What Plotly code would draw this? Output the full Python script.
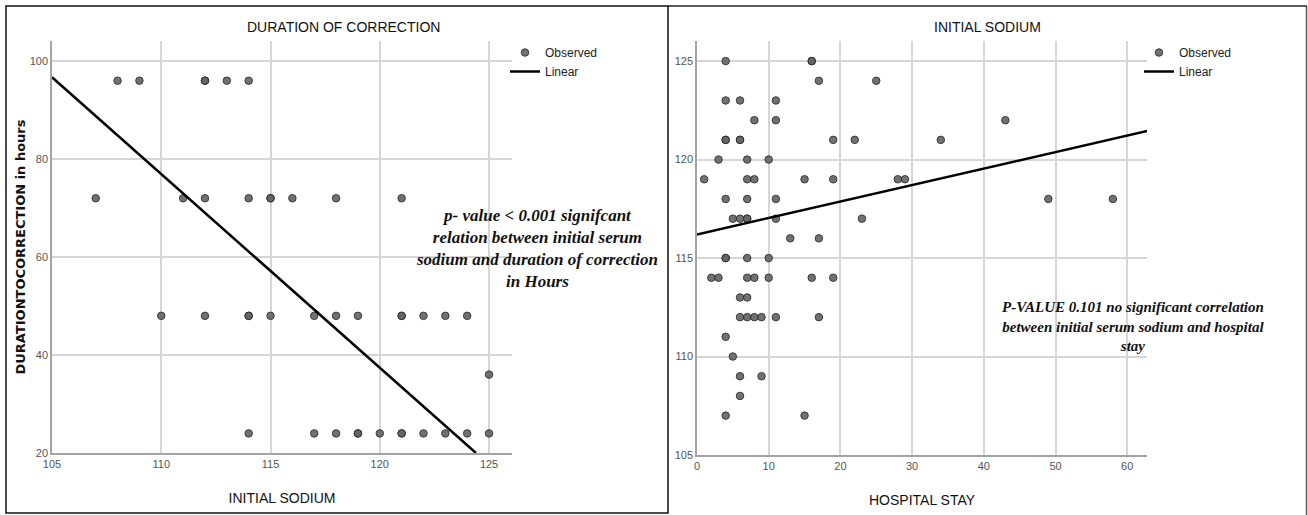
import plotly.graph_objects as go

# ---------------- data: left chart (duration of correction vs initial sodium)
dur_sodium = [108, 109, 112, 112, 113, 114,
              107, 111, 112, 114, 115, 115, 116, 118, 121,
              110, 112, 114, 114, 115, 117, 118, 119, 121, 121, 122, 123, 124,
              125,
              114, 117, 118, 119, 119, 120, 121, 121, 122, 123, 124, 125]
dur_hours = [96, 96, 96, 96, 96, 96,
             72, 72, 72, 72, 72, 72, 72, 72, 72,
             48, 48, 48, 48, 48, 48, 48, 48, 48, 48, 48, 48, 48,
             36,
             24, 24, 24, 24, 24, 24, 24, 24, 24, 24, 24, 24]
dur_fit_x = [105, 124.4]
dur_fit_y = [96.7, 20]

# ---------------- data: right chart (initial sodium vs hospital stay)
stay_days = [4, 16, 16,
             17, 25,
             4, 6, 11,
             8, 11, 43,
             4, 4, 6, 6, 19, 22, 34,
             3, 7, 10,
             1, 7, 8, 15, 19, 28, 29,
             4, 7, 11, 49, 58,
             5, 6, 7, 7, 11, 23,
             13, 17,
             4, 4, 7, 10,
             2, 3, 7, 8, 10, 16, 19,
             6, 7,
             6, 7, 8, 9, 11, 17,
             4,
             5,
             6, 9,
             6,
             4, 15]
stay_sodium = [125, 125, 125,
               124, 124,
               123, 123, 123,
               122, 122, 122,
               121, 121, 121, 121, 121, 121, 121,
               120, 120, 120,
               119, 119, 119, 119, 119, 119, 119,
               118, 118, 118, 118, 118,
               117, 117, 117, 117, 117, 117,
               116, 116,
               115, 115, 115, 115,
               114, 114, 114, 114, 114, 114, 114,
               113, 113,
               112, 112, 112, 112, 112, 112,
               111,
               110,
               109, 109,
               108,
               107, 107]
stay_fit_x = [0, 62.8]
stay_fit_y = [116.2, 121.45]

W, H = 1308, 515
def px(x):
    return x / W
def py(y):
    return 1 - y / H

SANS = "Liberation Sans Narrow, Arial Narrow, Liberation Sans, sans-serif"
TICK_FONT = dict(family=SANS, size=11, color="#555555")
TITLE_FONT = dict(family=SANS, size=14, color="#111")
LEG_FONT = dict(family=SANS, size=12, color="#222")
GRID = "#d6d6d6"
AXLINE = "#a3a3a3"
MARKER = dict(size=7.5, color="#666666", opacity=0.92, line=dict(color="#2b2b2b", width=1))

fig = go.Figure()

fig.add_trace(go.Scatter(x=dur_sodium, y=dur_hours, mode="markers", name="Observed",
                         marker=MARKER, xaxis="x", yaxis="y", legend="legend"))
fig.add_trace(go.Scatter(x=dur_fit_x, y=dur_fit_y, mode="lines", name="Linear",
                         line=dict(color="black", width=2.5), xaxis="x", yaxis="y", legend="legend"))
fig.add_trace(go.Scatter(x=stay_days, y=stay_sodium, mode="markers", name="Observed",
                         marker=MARKER, xaxis="x2", yaxis="y2", legend="legend2"))
fig.add_trace(go.Scatter(x=stay_fit_x, y=stay_fit_y, mode="lines", name="Linear",
                         line=dict(color="black", width=2.5), xaxis="x2", yaxis="y2", legend="legend2"))

common_axis = dict(showgrid=True, gridcolor=GRID, gridwidth=1.5, showline=True, linecolor=AXLINE,
                   linewidth=1.5, zeroline=False, ticks="", tickfont=TICK_FONT, fixedrange=True,
                   automargin=False)

fig.update_layout(
    width=W, height=H,
    margin=dict(l=0, r=0, t=0, b=0, autoexpand=False),
    paper_bgcolor="white", plot_bgcolor="white",
    xaxis=dict(domain=[px(52), px(512)], range=[105, 126.05], tickvals=[105, 110, 115, 120, 125],
               anchor="y",
               title=dict(text="INITIAL SODIUM", font=TITLE_FONT, standoff=24), **common_axis),
    yaxis=dict(domain=[py(453), py(41)], range=[20, 104.1], tickvals=[20, 40, 60, 80, 100],
               anchor="x",
               title=dict(text="<b>DURATIONTOCORRECTION in hours</b>",
                          font=dict(family="DejaVu Sans", size=13, color="#111"), standoff=1),
               **common_axis),
    xaxis2=dict(domain=[px(697), px(1147)], range=[0, 62.76], tickvals=[0, 10, 20, 30, 40, 50, 60],
                anchor="y2",
                title=dict(text="HOSPITAL STAY", font=TITLE_FONT, standoff=24), **common_axis),
    yaxis2=dict(domain=[py(455), py(41)], range=[105, 126.02], tickvals=[105, 110, 115, 120, 125],
                anchor="x2", **common_axis),
    legend=dict(x=px(505), y=py(38), xanchor="left", yanchor="top", font=LEG_FONT,
                bgcolor="rgba(0,0,0,0)", tracegroupgap=0, itemwidth=30),
    legend2=dict(x=px(1139), y=py(38), xanchor="left", yanchor="top", font=LEG_FONT,
                 bgcolor="rgba(0,0,0,0)", tracegroupgap=0, itemwidth=30),
    showlegend=True,
)

# chart titles
fig.add_annotation(text="DURATION OF CORRECTION", x=px(343), y=py(27), xref="paper", yref="paper",
                   showarrow=False, font=TITLE_FONT, xanchor="center", yanchor="middle")
fig.add_annotation(text="INITIAL SODIUM", x=px(988), y=py(27), xref="paper", yref="paper",
                   showarrow=False, font=TITLE_FONT, xanchor="center", yanchor="middle")

# significance notes
SERIF = dict(family="Liberation Serif, Times New Roman, serif", size=17, color="#111")
fig.add_annotation(
    text="<b><i>p- value &lt; 0.001 signifcant<br>relation between initial serum<br>"
         "sodium and duration of correction<br>in Hours</i></b>",
    x=px(537), y=py(248), xref="paper", yref="paper", showarrow=False,
    font=SERIF, align="center", xanchor="center", yanchor="middle")
fig.add_annotation(
    text="<b><i>P-VALUE 0.101 no significant correlation<br>between initial serum sodium and hospital<br>"
         "stay</i></b>",
    x=px(1133), y=py(326), xref="paper", yref="paper", showarrow=False,
    font=dict(family="Liberation Serif, Times New Roman, serif", size=15, color="#111"),
    align="center", xanchor="center", yanchor="middle")

# panel frames
fig.add_shape(type="rect", xref="paper", yref="paper", x0=px(6), x1=px(668), y0=py(513), y1=py(6),
              line=dict(color="#111", width=1.5))
fig.add_shape(type="line", xref="paper", yref="paper", x0=px(668), x1=px(1307), y0=py(6), y1=py(6),
              line=dict(color="#222", width=1.5))
fig.add_shape(type="line", xref="paper", yref="paper", x0=px(1306.5), x1=px(1306.5), y0=py(6), y1=0,
              line=dict(color="#555", width=1.5))

fig.write_html("out.html", config={"displayModeBar": False},
               post_script="document.body.style.margin='0px';document.body.style.overflow='hidden';")
